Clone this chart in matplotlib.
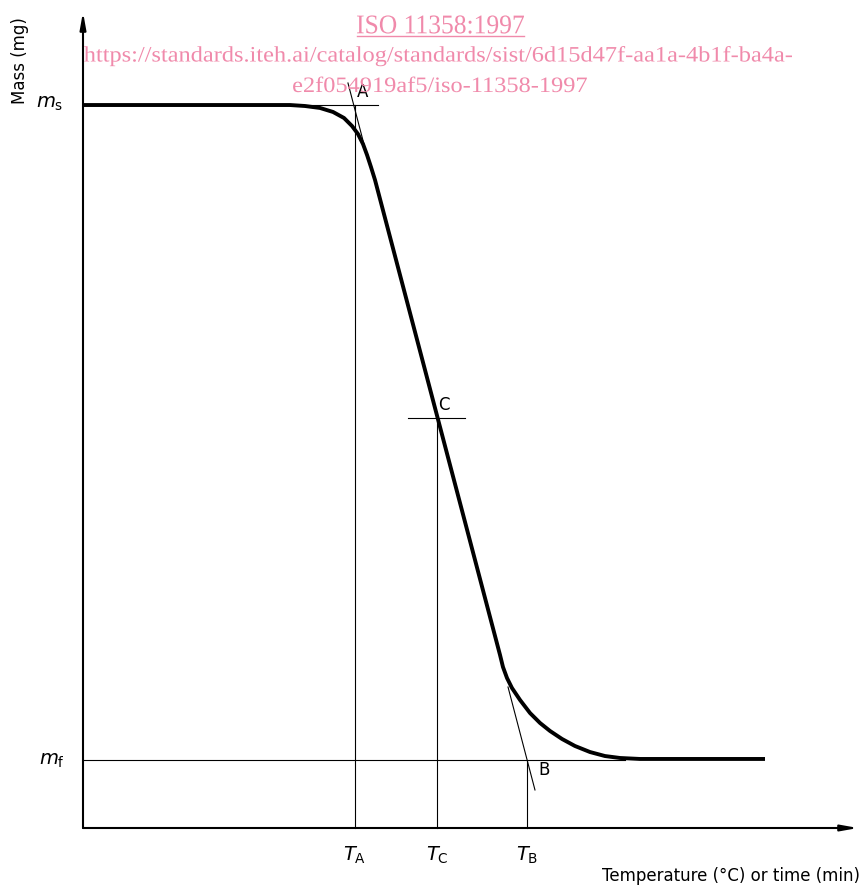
import matplotlib
matplotlib.use("Agg")
import matplotlib.pyplot as plt
from matplotlib.textpath import TextPath
from matplotlib.font_manager import FontProperties
from matplotlib.patches import PathPatch
from matplotlib.transforms import Affine2D

# ---- data (schematic units: x 0..100, y 0..100) ----
curve_x = [0, 26.71, 28.65, 30.58, 32.26, 33.68, 34.71, 35.48, 36.13, 36.65, 37.16, 37.68,
           53.81, 54.19, 54.71, 55.35, 56.39, 57.68, 58.97, 60.26, 61.81, 63.48, 65.42,
           67.35, 69.29, 71.87, 88.0]
curve_y = [88.60, 88.60, 88.48, 88.24, 87.75, 87.01, 86.03, 85.05, 83.82, 82.48, 81.00, 79.41,
           21.20, 19.73, 18.38, 17.16, 15.69, 14.09, 12.87, 11.89, 10.91, 10.05, 9.31,
           8.82, 8.58, 8.46, 8.46]
m_s = 88.6
m_f = 8.33
T_A, T_C, T_B = 35.08, 45.68, 57.27
C_y = 50.25
tangent_A_x = [34.19, 36.39]
tangent_A_y = [91.3, 83.3]
tangent_B_x = [54.84, 58.32]
tangent_B_y = [17.28, 4.66]
ms_line_end = 38.06
mf_line_end = 70.0
C_tick_x = [41.94, 49.29]
point_labels = ["A", "C", "B"]
point_label_xy = [(36.1, 90.2), (46.58, 51.84), (59.48, 7.11)]
T_labels = [("T", "A", T_A), ("T", "C", T_C), ("T", "B", T_B)]

watermark = ["ISO 11358:1997",
             "https://standards.iteh.ai/catalog/standards/sist/6d15d47f-aa1a-4b1f-ba4a-",
             "e2f054919af5/iso-11358-1997"]
pink = "#f08aab"

W, H = 864, 888
fig = plt.figure(figsize=(W / 100, H / 100), dpi=100)
ax = fig.add_axes([83 / W, 60 / H, 775 / W, 816 / H])
ax.set_xlim(0, 100)
ax.set_ylim(0, 100)
ax.axis("off")

thin = dict(color="black", lw=0.8, clip_on=False)

# reference lines
ax.plot([0, ms_line_end], [m_s, m_s], **thin)
ax.plot([0, mf_line_end], [m_f, m_f], **thin)
ax.plot(C_tick_x, [C_y, C_y], **thin)
ax.plot([T_A, T_A], [0, m_s], **thin)
ax.plot([T_C, T_C], [0, C_y], **thin)
ax.plot([T_B, T_B], [0, m_f], **thin)
ax.plot(tangent_A_x, tangent_A_y, **thin)
ax.plot(tangent_B_x, tangent_B_y, **thin)

# curve
ax.plot(curve_x, curve_y, color="black", lw=2.8, solid_capstyle="butt",
        solid_joinstyle="round", clip_on=False)

# axes with arrows
arrow = dict(arrowstyle="-|>,head_length=1.0,head_width=0.18", color="black", lw=1.5,
             shrinkA=0, shrinkB=0)
ax.annotate("", xy=(0, 100), xytext=(0, 0), arrowprops=arrow, annotation_clip=False)
ax.annotate("", xy=(100, 0), xytext=(0, 0), arrowprops=arrow, annotation_clip=False)

fs = 12
for lab, (x, y) in zip(point_labels, point_label_xy):
    ax.text(x, y, lab, fontsize=fs, ha="center", va="center")
for main, sub, x in T_labels:
    ax.text(x, -3.3, rf"$\mathit{{{main}}}_{{\mathrm{{{sub}}}}}$", fontsize=fs + 2,
            ha="center", va="center")
ax.text(-4.26, m_s + 0.2, r"$\mathit{m}_{\mathrm{s}}$", fontsize=fs + 2, ha="center", va="center")
ax.text(-4.0, m_f, r"$\mathit{m}_{\mathrm{f}}$", fontsize=fs + 2, ha="center", va="center")
ax.text(-8.13, 94.1, "Mass (mg)", fontsize=fs, rotation=90, ha="center", va="center")
ax.text(100.3, -5.9, "Temperature (°C) or time (min)", fontsize=fs, ha="right", va="center")

# watermark: condensed serif text drawn as paths (pixel coordinates, origin top-left)
fp = FontProperties(family="Liberation Serif")
to_fig = Affine2D().scale(1 / W, 1 / H) + fig.transFigure


def wm_text(txt, size_px, cx, baseline, sx=None, width=None):
    tp = TextPath((0, 0), txt, size=size_px, prop=fp)
    bb = tp.get_extents()
    if sx is None:
        sx = width / bb.width
    tr = (Affine2D().translate(-(bb.x0 + bb.width / 2), 0).scale(sx, 1)
          .translate(cx, H - baseline) + to_fig)
    fig.add_artist(PathPatch(tp, transform=tr, facecolor=pink, edgecolor="none"))
    return sx


wm_text(watermark[0], 27, 440.5, 33.3, width=167)
sx2 = wm_text(watermark[1], 22, 438, 61.5, width=708)
wm_text(watermark[2], 22, 440, 92, sx=sx2)
fig.add_artist(plt.Line2D([357 / W, 524 / W], [1 - 36 / H, 1 - 36 / H], color=pink, lw=1))

fig.savefig("out.png", dpi=100)
